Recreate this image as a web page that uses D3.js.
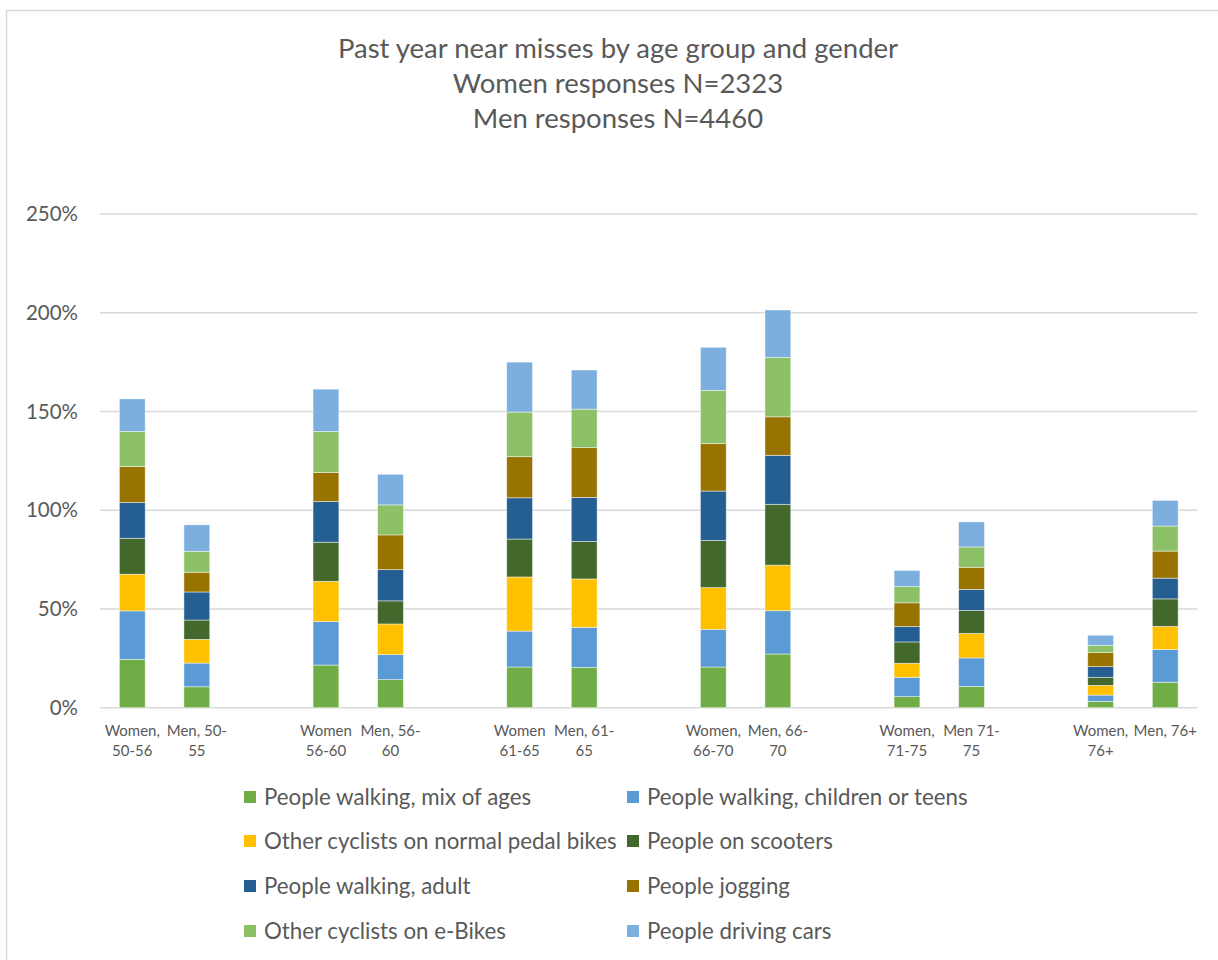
<!DOCTYPE html>
<html>
<head>
<meta charset="utf-8">
<script src="https://cdn.jsdelivr.net/npm/d3@7"></script>
<style>
  html, body { margin: 0; padding: 0; background: #fff; }
  svg { display: block; }
  text { font-family: Lato, "Open Sans", "Liberation Sans", sans-serif; fill: #595959; }
</style>
</head>
<body>
<svg id="chart" width="1218" height="960"></svg>
<script>
// ---------- DATA ----------
const titleLines = ["Past year near misses by age group and gender", "Women responses N=2323", "Men responses N=4460"];

const categories = ["Women, 50-56", "Men, 50-55", "", "Women 56-60", "Men, 56-60", "",
  "Women 61-65", "Men, 61-65", "", "Women, 66-70", "Men, 66-70", "",
  "Women, 71-75", "Men 71-75", "", "Women, 76+", "Men, 76+"];

const categoryLabelLines = [["Women,", "50-56"], ["Men, 50-", "55"], [], ["Women", "56-60"], ["Men, 56-", "60"], [],
  ["Women", "61-65"], ["Men, 61-", "65"], [], ["Women,", "66-70"], ["Men, 66-", "70"], [],
  ["Women,", "71-75"], ["Men 71-", "75"], [], ["Women,", "76+"], ["Men, 76+"]];

const seriesNames = ["People walking, mix of ages", "People walking, children or teens",
  "Other cyclists on normal pedal bikes", "People on scooters", "People walking, adult",
  "People jogging", "Other cyclists on e-Bikes", "People driving cars"];

const seriesColors = ["#70AD47", "#5B9BD5", "#FFC000", "#43682B", "#255E91", "#997300", "#8CC168", "#7CAFDD"];

// values in percent, one per category (blank gap categories have 0)
const walkingMix     = [24.5, 10.6, 0, 21.6, 14.2, 0, 20.6, 20.4, 0, 20.6, 27.2, 0, 5.6, 10.7, 0, 3.2, 12.9];
const walkingChildren= [24.5, 12.0, 0, 22.0, 12.7, 0, 18.2, 20.3, 0, 19.1, 21.9, 0, 9.8, 14.5, 0, 3.2, 16.6];
const pedalCyclists  = [18.6, 12.0, 0, 20.4, 15.5, 0, 27.4, 24.5, 0, 21.1, 23.1, 0, 7.1, 12.4, 0, 4.9, 11.7];
const scooters       = [18.2, 9.8, 0, 19.8, 11.7, 0, 19.2, 19.0, 0, 23.9, 30.8, 0, 10.8, 11.6, 0, 4.1, 13.9];
const walkingAdult   = [18.1, 14.2, 0, 20.6, 15.8, 0, 20.9, 22.3, 0, 25.0, 24.8, 0, 7.8, 10.7, 0, 5.4, 10.5];
const jogging        = [18.2, 10.0, 0, 14.7, 17.6, 0, 20.8, 25.2, 0, 24.0, 19.5, 0, 12.0, 11.2, 0, 7.1, 13.7];
const eBikes         = [17.8, 10.6, 0, 20.8, 15.2, 0, 22.6, 19.5, 0, 27.0, 30.1, 0, 8.2, 10.3, 0, 3.7, 12.7];
const drivingCars    = [16.5, 13.4, 0, 21.4, 15.5, 0, 25.3, 19.8, 0, 21.8, 24.0, 0, 8.2, 12.7, 0, 5.1, 13.0];

const yTicks = [0, 50, 100, 150, 200, 250];

// ---------- BUILD ----------
const seriesValues = [walkingMix, walkingChildren, pedalCyclists, scooters, walkingAdult, jogging, eBikes, drivingCars];
const table = categories.map((c, i) => {
  const row = { idx: i };
  seriesNames.forEach((s, k) => row[s] = seriesValues[k][i]);
  return row;
});
const stacked = d3.stack().keys(seriesNames)(table);

const svg = d3.select("#chart");

// chart frame
svg.append("rect").attr("x", 6.5).attr("y", 10.5).attr("width", 1240).attr("height", 980)
  .attr("fill", "#fff").attr("stroke", "#D9D9D9").attr("stroke-width", 1.5);

const plot = { left: 100, right: 1197.5, top: 214, bottom: 707.7 };

const x = d3.scaleBand().domain(d3.range(categories.length))
  .range([plot.left, plot.right]).paddingInner(0.6).paddingOuter(0.3);
const y = d3.scaleLinear().domain([0, 250]).range([plot.bottom, plot.top]);

// title
svg.append("g").selectAll("text").data(titleLines).join("text")
  .attr("x", 618).attr("y", (d, i) => 58 + i * 35)
  .attr("text-anchor", "middle").style("font-size", "27.5px")
  .text(d => d);

// gridlines
svg.append("g").selectAll("line").data(yTicks).join("line")
  .attr("x1", plot.left).attr("x2", plot.right)
  .attr("y1", d => y(d)).attr("y2", d => y(d))
  .attr("stroke", "#D9D9D9").attr("stroke-width", 1.5);

// y axis labels
svg.append("g").selectAll("text").data(yTicks).join("text")
  .attr("x", 78).attr("y", d => y(d)).attr("dy", "0.35em")
  .attr("text-anchor", "end").style("font-size", "20.5px")
  .text(d => d + "%");

// bars
svg.append("g").selectAll("g").data(stacked).join("g")
  .attr("fill", (d, i) => seriesColors[i])
  .selectAll("rect").data(d => d.filter(p => p[1] - p[0] > 0)).join("rect")
  .attr("x", d => x(d.data.idx))
  .attr("width", x.bandwidth())
  .attr("y", d => y(d[1]))
  .attr("height", d => y(d[0]) - y(d[1]))
  .attr("stroke", "#fff").attr("stroke-width", 0.75).attr("stroke-opacity", 0.6);

// x labels
const xl = svg.append("g").selectAll("text").data(categoryLabelLines.map((l, i) => ({ l, i })).filter(d => d.l.length)).join("text")
  .attr("text-anchor", "middle").style("font-size", "15px");
xl.selectAll("tspan").data(d => d.l.map(t => ({ t, i: d.i }))).join("tspan")
  .attr("x", d => x(d.i) + x.bandwidth() / 2)
  .attr("y", (d, j) => 736 + j * 20)
  .text(d => d.t);

// legend
const legendCols = [244, 627];
const legendRows = [797, 841, 886, 931];
const lg = svg.append("g").selectAll("g").data(seriesNames).join("g")
  .attr("transform", (d, i) => `translate(${legendCols[i % 2]},${legendRows[Math.floor(i / 2)]})`);
lg.append("rect").attr("x", 0).attr("y", -6).attr("width", 12).attr("height", 12)
  .attr("fill", (d, i) => seriesColors[i]);
lg.append("text").attr("x", 20).attr("dy", "0.35em").style("font-size", "22.3px").text(d => d);
</script>
</body>
</html>
